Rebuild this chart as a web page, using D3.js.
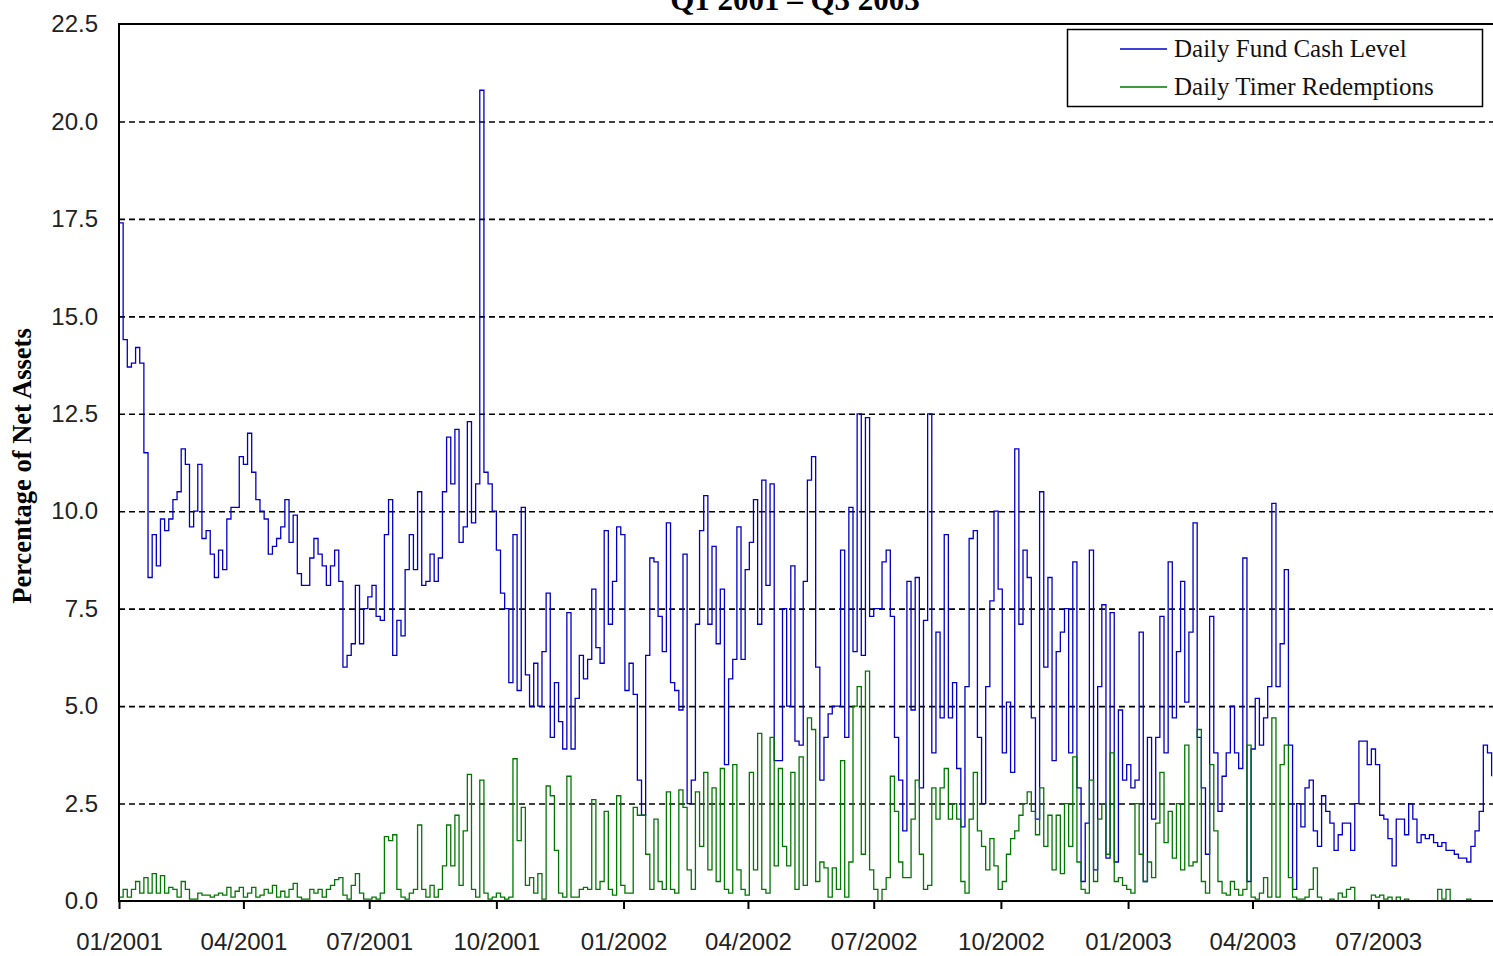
<!DOCTYPE html>
<html>
<head>
<meta charset="utf-8">
<script src="https://cdn.jsdelivr.net/npm/d3@7"></script>
<style>
  body { margin: 0; background: #fff; }
  svg { display: block; }
</style>
</head>
<body>
<div id="chart"></div>
<script>
// Daily series, one reading every 3 days from 01/01/2001
const startDate = new Date(2001, 0, 1);
const stepDays = 3;

const cashLevel = [
  17.4,14.4,13.7,13.8,14.2,13.8,11.5,8.3,9.4,8.6,
  9.8,9.5,9.8,10.3,10.5,11.6,11.2,9.6,10.0,11.2,
  9.3,9.5,8.9,8.3,9.0,8.5,9.8,10.1,10.1,11.4,
  11.2,12.0,11.0,10.3,10.0,9.8,8.9,9.1,9.3,9.6,
  10.3,9.2,9.9,8.4,8.1,8.1,8.8,9.3,8.9,8.6,
  8.1,8.6,9.0,8.2,6.0,6.3,6.6,8.1,6.6,7.5,
  7.8,8.1,7.3,7.2,9.4,10.3,6.3,7.2,6.8,8.5,
  9.4,8.5,10.5,8.1,8.2,8.9,8.2,8.8,10.5,11.9,
  10.7,12.1,9.2,9.6,12.3,9.7,10.7,20.8,11.0,10.7,
  10.0,9.0,7.9,7.5,5.6,9.4,5.4,10.1,5.8,5.0,
  6.1,5.0,6.4,7.9,4.2,5.6,4.6,3.9,7.4,3.9,
  5.2,6.3,5.7,6.2,8.0,6.5,6.1,9.5,7.1,8.2,
  9.6,9.4,5.4,6.1,5.3,3.1,2.2,6.3,8.8,8.7,
  7.3,6.4,9.7,5.6,5.4,4.9,8.9,2.5,3.1,7.1,
  9.5,10.4,7.1,9.1,6.6,8.0,3.5,5.7,6.2,9.6,
  6.2,8.5,9.2,10.3,7.1,10.8,8.1,10.7,3.6,3.6,
  7.5,5.0,8.6,4.1,4.0,8.2,10.8,11.4,6.0,3.1,
  4.2,4.8,5.0,5.0,9.0,4.2,10.1,6.4,12.5,6.3,
  12.4,7.3,7.5,7.5,8.7,9.0,7.3,4.2,3.1,1.8,
  8.2,4.9,8.3,2.9,7.2,12.5,3.8,6.9,4.7,9.4,
  4.7,5.6,3.4,1.9,5.5,9.3,9.5,4.2,2.5,5.5,
  7.7,10.0,8.0,3.8,5.1,3.3,11.6,7.1,9.0,8.3,
  4.7,2.1,10.5,6.0,8.3,3.6,6.4,6.9,7.5,3.8,
  8.7,2.9,0.5,2.0,9.0,0.8,5.5,7.6,1.1,7.4,
  1.0,4.9,3.1,3.5,2.9,3.1,6.9,0.5,4.2,2.1,
  4.2,7.3,3.8,8.7,4.7,6.4,8.2,5.1,6.9,9.7,
  4.2,2.9,1.2,7.3,3.8,2.3,3.2,3.8,5.0,3.8,
  3.4,8.8,0.5,3.9,5.2,4.0,4.7,5.5,10.2,5.5,
  6.6,8.5,4.0,0.3,2.5,1.9,2.9,3.1,1.8,1.4,
  2.7,2.3,2.0,1.3,1.7,2.0,2.0,1.3,2.5,4.1,
  4.1,3.5,3.9,3.5,2.2,2.1,1.6,0.9,2.1,2.1,
  1.7,2.5,2.1,1.5,1.7,1.6,1.7,1.5,1.4,1.5,
  1.3,1.3,1.2,1.1,1.1,1.0,1.4,1.8,2.3,4.0,
  3.8,3.2
];

const timerRedemptions = [
  0.1,0.3,0.1,0.3,0.5,0.2,0.6,0.2,0.7,0.2,
  0.65,0.2,0.35,0.3,0.1,0.5,0.3,0.05,0.05,0.2,
  0.15,0.15,0.1,0.15,0.2,0.15,0.35,0.1,0.25,0.35,
  0.1,0.2,0.35,0.1,0.15,0.3,0.2,0.4,0.1,0.25,
  0.1,0.3,0.45,0.1,0.05,0.05,0.3,0.2,0.3,0.1,
  0.3,0.4,0.55,0.6,0.15,0.05,0.4,0.7,0.2,0.05,
  0.05,0.1,0.05,0.2,1.65,1.55,1.7,0.3,0.1,0.05,
  0.2,0.3,1.95,0.3,0.1,0.4,0.1,0.3,0.9,1.95,
  0.9,2.2,0.4,1.8,3.25,0.3,0.1,3.1,0.2,0.05,
  0.1,0.2,0.1,0.05,0.1,3.65,1.55,2.4,0.4,0.6,
  0.2,0.7,0.05,2.95,2.7,1.3,0.2,0.1,3.2,0.1,
  0.1,0.3,0.35,0.3,2.6,0.3,0.5,2.3,0.3,0.15,
  2.7,0.4,0.2,0.2,2.4,2.2,2.2,1.2,0.3,2.1,
  0.5,0.3,2.8,0.3,0.2,2.85,2.4,0.8,0.3,2.8,
  1.4,3.3,0.8,2.9,0.5,3.4,0.3,0.2,3.5,0.8,
  0.3,0.15,3.3,0.8,4.3,0.3,0.2,4.2,0.9,3.4,
  1.4,0.9,3.3,0.3,3.7,0.4,4.7,4.4,0.5,1.0,
  0.85,0.1,0.85,0.3,3.6,0.1,1.0,5.0,5.5,1.2,
  5.9,0.8,0.3,0.0,0.3,0.6,3.2,2.3,1.0,0.6,
  0.6,2.1,3.1,1.2,0.3,0.4,2.9,2.1,2.9,3.4,
  2.1,2.5,2.1,0.5,0.2,2.1,3.3,1.8,1.4,0.8,
  1.6,0.9,0.3,0.5,1.2,1.6,1.8,2.2,2.5,2.8,
  2.3,1.7,2.9,1.4,2.2,0.8,2.2,0.7,2.5,1.4,
  3.7,1.0,0.3,0.2,3.1,0.5,2.1,2.5,1.2,3.8,
  0.5,0.6,0.4,0.3,0.2,2.5,1.2,0.5,1.0,0.6,
  2.0,3.3,1.5,2.3,1.1,2.5,0.8,4.0,0.9,1.0,
  4.4,0.5,0.2,3.5,1.8,0.5,0.2,0.15,0.5,0.3,
  0.15,0.3,4.0,0.1,0.05,0.2,0.6,0.1,4.7,0.1,
  3.5,4.0,0.6,0.1,0.05,0.05,0.1,0.3,0.85,0.1,
  0,0,0.05,0,0.2,0.1,0.3,0.35,0,0,
  0,0,0.15,0.1,0.15,0.05,0.1,0,0.1,0,
  0.05,0,0,0,0,0,0,0,0.3,0.05,
  0.3,0,0,0,0,0.05,0
];

const seriesNames = ["Daily Fund Cash Level", "Daily Timer Redemptions"];
const seriesColors = ["#0000c4", "#007800"];
const xTickLabels = ["01/2001","04/2001","07/2001","10/2001","01/2002","04/2002",
                     "07/2002","10/2002","01/2003","04/2003","07/2003"];
const yTickValues = [0, 2.5, 5, 7.5, 10, 12.5, 15, 17.5, 20, 22.5];
const chartTitle = "Q1 2001 \u2013 Q3 2003";
const yTitle = "Percentage of Net Assets";

function CashChart({
  width = 1493,
  height = 956,
  marginTop = 24,
  marginLeft = 119,
  marginBottom = 55,
  endDate = new Date(2003, 8, 22), // picture is cut off at the right
} = {}) {
  const parseTick = d3.timeParse("%m/%Y");
  const toSeries = (values) =>
    values.map((v, i) => ({ date: d3.timeDay.offset(startDate, i * stepDays), value: v }));

  const x = d3.scaleTime()
    .domain([startDate, endDate])
    .range([marginLeft, width]);
  const y = d3.scaleLinear()
    .domain([0, 22.5])
    .range([height - marginBottom, marginTop]);

  const svg = d3.create("svg")
    .attr("width", width)
    .attr("height", height)
    .attr("viewBox", [0, 0, width, height]);

  svg.append("rect").attr("width", width).attr("height", height).attr("fill", "#fff");

  // title, mostly above the top of the picture (as in the source image)
  svg.append("text")
    .attr("x", 795)
    .attr("y", 10)
    .attr("text-anchor", "middle")
    .attr("font-family", "Liberation Serif, Times New Roman, serif")
    .attr("font-weight", "bold")
    .attr("font-size", 31)
    .text(chartTitle);

  // dashed grid
  svg.append("g")
    .selectAll("line")
    .data(yTickValues.filter((d) => d > 0 && d < 22.5))
    .join("line")
    .attr("x1", marginLeft)
    .attr("x2", width)
    .attr("y1", (d) => y(d) + 0.5)
    .attr("y2", (d) => y(d) + 0.5)
    .attr("stroke", "#000")
    .attr("stroke-width", 1.6)
    .attr("stroke-dasharray", "6,4");

  const line = d3.line()
    .x((d) => x(d.date))
    .y((d) => y(d.value))
    .curve(d3.curveStepAfter);

  svg.append("g")
    .attr("fill", "none")
    .attr("stroke-width", 1.3)
    .selectAll("path")
    .data([toSeries(cashLevel), toSeries(timerRedemptions)])
    .join("path")
    .attr("stroke", (d, i) => seriesColors[i])
    .attr("d", line);

  // frame: top border, left and bottom axes
  svg.append("path")
    .attr("fill", "none")
    .attr("stroke", "#000")
    .attr("stroke-width", 2)
    .attr("d", `M${width},${marginTop}H${marginLeft}V${height - marginBottom}H${width}`);

  const xAxis = d3.axisBottom(x)
    .tickValues(xTickLabels.map(parseTick))
    .tickFormat(d3.timeFormat("%m/%Y"))
    .tickSize(8)
    .tickPadding(24);

  svg.append("g")
    .attr("transform", `translate(0,${height - marginBottom})`)
    .call(xAxis)
    .call((g) => g.select(".domain").remove())
    .call((g) => g.selectAll(".tick line").attr("stroke-width", 2))
    .call((g) => g.selectAll("text")
      .attr("font-family", "Liberation Sans, Arial, sans-serif")
      .attr("font-size", 24)
      .attr("fill", "#222"));

  const yAxis = d3.axisLeft(y)
    .tickValues(yTickValues)
    .tickFormat(d3.format(".1f"))
    .tickSize(0)
    .tickPadding(21);

  svg.append("g")
    .attr("transform", `translate(${marginLeft},0)`)
    .call(yAxis)
    .call((g) => g.select(".domain").remove())
    .call((g) => g.selectAll("text")
      .attr("font-family", "Liberation Sans, Arial, sans-serif")
      .attr("font-size", 24)
      .attr("fill", "#222"));

  svg.append("text")
    .attr("transform", `translate(31,${466}) rotate(-90)`)
    .attr("text-anchor", "middle")
    .attr("font-family", "Liberation Serif, Times New Roman, serif")
    .attr("font-weight", "bold")
    .attr("font-size", 26.5)
    .text(yTitle);

  // legend
  const legend = svg.append("g");
  legend.append("rect")
    .attr("x", 1067.5)
    .attr("y", 29.5)
    .attr("width", 415)
    .attr("height", 77)
    .attr("fill", "#fff")
    .attr("stroke", "#000")
    .attr("stroke-width", 1.5);

  const item = legend.selectAll("g")
    .data(seriesNames)
    .join("g")
    .attr("transform", (d, i) => `translate(1120,${49 + i * 38})`);

  item.append("line")
    .attr("x2", 47)
    .attr("stroke", (d, i) => seriesColors[i])
    .attr("stroke-width", 1.5);

  item.append("text")
    .attr("x", 54)
    .attr("y", 8)
    .attr("font-family", "Liberation Serif, Times New Roman, serif")
    .attr("font-size", 25)
    .attr("fill", "#111")
    .text((d) => d);

  return svg.node();
}

d3.select("#chart").append(() => CashChart());
</script>
</body>
</html>
